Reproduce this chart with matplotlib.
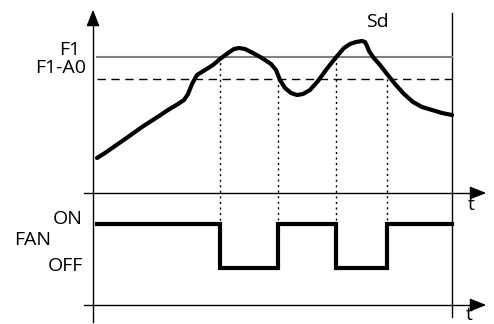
import numpy as np
import matplotlib.pyplot as plt

# schematic coordinates (pixel-like units, y grows downward)
curve_t = [97, 105, 115, 128, 142, 156, 168, 178, 184, 188, 192, 197, 205, 213, 220,
           228, 234, 239, 245, 253, 262, 271, 276, 280, 285, 291, 297, 303, 310,
           318, 326, 333, 338, 344, 350, 356, 362, 365, 367, 369, 373, 380, 387,
           395, 404, 413, 422, 432, 442, 452]
curve_y = [158, 153, 146, 137, 127, 118, 110, 104, 100, 94, 84, 75, 70, 65, 59,
           53, 49, 48, 49, 53, 58, 64, 70, 80, 88, 93, 95, 94, 90,
           81, 70, 61, 55, 48, 44, 42, 41, 42, 46, 51, 57, 65, 74,
           84, 94, 102, 107, 110, 113, 115]

F1 = 57
F1_A0 = 79
ON = 224
OFF = 268
switch_t = [97, 220, 220, 278, 278, 336, 336, 387, 387, 452]
switch_y = [ON, ON, OFF, OFF, ON, ON, OFF, OFF, ON, ON]
cross_t = [220, 278, 336, 387]
cross_y = [F1, F1_A0, F1, F1_A0]

plt.rcParams['font.family'] = ['Open Sans', 'DejaVu Sans']

fig = plt.figure(figsize=(4.94, 3.24), dpi=100)
ax = fig.add_axes([0, 0, 1, 1])
ax.set_xlim(0, 494)
ax.set_ylim(324, 0)
ax.axis('off')

# axes
ax.plot([93, 93], [16, 322], color='black', lw=1.0)
ax.annotate('', xy=(93, 7), xytext=(93, 20),
            arrowprops=dict(arrowstyle='-|>,head_length=1.0,head_width=0.4',
                            color='black', lw=1.0))
ax.plot([452, 452], [13, 317], color='black', lw=1.0)
for y in (193, 305):
    ax.plot([84, 478], [y, y], color='black', lw=1.0)
    ax.annotate('', xy=(489, y), xytext=(474, y),
                arrowprops=dict(arrowstyle='-|>,head_length=1.0,head_width=0.4',
                                color='black', lw=1.0))

# thresholds
ax.plot([97, 452], [F1, F1], color='#808080', lw=1.5)
ax.plot([97, 452], [F1_A0, F1_A0], color='black', lw=1.0, ls=(0, (6, 4)))

# crossing markers
for t, y in zip(cross_t, cross_y):
    ax.plot([t, t], [y, ON], color='black', lw=1.0, ls=(0, (1.5, 2.5)))

ax.plot(curve_t, curve_y, color='black', lw=3.0, solid_joinstyle='round',
        solid_capstyle='round')
ax.plot(switch_t, switch_y, color='black', lw=3.0, solid_joinstyle='miter')

fs = 14
ax.text(80, 50, 'F1', fontsize=fs, ha='right', va='center')
ax.text(86, 68, 'F1-A0', fontsize=fs, ha='right', va='center')
ax.text(377, 22, 'Sd', fontsize=fs, ha='center', va='center')
ax.text(83, 219, 'ON', fontsize=fs, ha='right', va='center')
ax.text(14, 240, 'FAN', fontsize=fs, ha='left', va='center')
ax.text(83, 266, 'OFF', fontsize=fs, ha='right', va='center')
ax.text(471, 205, 't', fontsize=fs, ha='center', va='center')
ax.text(469, 315, 't', fontsize=fs, ha='center', va='center')

fig.savefig('out.png', dpi=100)
